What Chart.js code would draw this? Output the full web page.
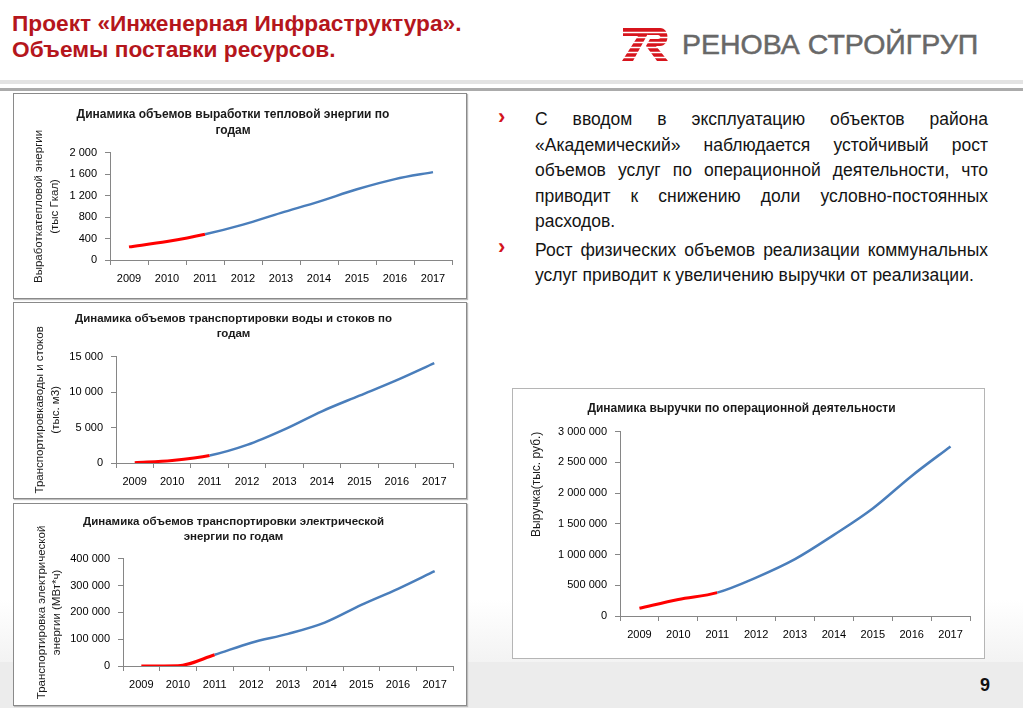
<!DOCTYPE html>
<html lang="ru">
<head>
<meta charset="utf-8">
<title>Объемы поставки ресурсов</title>
<script src="https://cdn.jsdelivr.net/npm/chart.js@4.4.0/dist/chart.umd.min.js"></script>
<style>
  html, body { margin: 0; padding: 0; }
  body {
    width: 1023px; height: 708px; position: relative; overflow: hidden;
    background: #fff; font-family: "Liberation Sans", Arial, sans-serif;
  }
  .bg-mid { position: absolute; left: 0; right: 0; top: 600px; height: 62px; background: linear-gradient(#fff, #f3f3f3); }
  .bg-low { position: absolute; left: 0; right: 0; top: 662px; bottom: 0; background: #ececec; }
  .head { position: absolute; left: 12px; top: 10px; color: #b5161c; font-size: 22.7px; font-weight: bold; line-height: 26px; }
  .logo-icon { position: absolute; left: 620px; top: 27px; }
  .logo-text { position: absolute; left: 682px; top: 28px; font-size: 28.5px; color: #686868; line-height: 32px; -webkit-text-stroke: 0.5px #686868; }
  .rule { position: absolute; left: 0; right: 0; }
  .rule1 { top: 80px; height: 4px; background: #e3e3e3; }
  .rule2 { top: 88px; height: 3px; background: #ababab; }
  .box { position: absolute; box-sizing: border-box; border: 1px solid #8a8a8a; background: #fff; box-shadow: 1px 1px 1px #bdbdbd; }
  .box canvas { position: absolute; left: 0; top: 0; }
  .box4 { border-color: #b5b5b5; box-shadow: none; }
  .bullets { position: absolute; left: 535px; top: 107px; width: 453px; font-size: 17.5px; line-height: 25.5px; color: #141414; }
  .ln { text-align: justify; text-align-last: justify; }
  .last { text-align: left; text-align-last: left; }
  .p2 { margin-top: 3px; }
  .mark { position: absolute; left: 498px; color: #d3141c; font-weight: bold; font-size: 22px; line-height: 22px; }
  .page { position: absolute; left: 980px; top: 675px; font-size: 18px; font-weight: bold; color: #111; }
</style>
</head>
<body>
<div class="bg-mid"></div>
<div class="bg-low"></div>

<div class="head">Проект «Инженерная Инфраструктура».<br>Объемы поставки ресурсов.</div>

<svg class="logo-icon" width="50" height="36" viewBox="0 0 50 36">
  <path d="M3 1 H31 L13 34 H2 L18 9 H3 Z" fill="#d7141c"/>
  <path d="M30 1 H40 C50 1 50 19 40 19 H36 L48 34 H37 L26 19 L30 12 H38 C41 12 41 8 38 8 H27 Z" fill="#d7141c"/>
  <g stroke="#fff" stroke-width="1.6">
    <line x1="0" y1="5.5" x2="50" y2="5.5"/>
    <line x1="0" y1="10.5" x2="50" y2="10.5"/>
    <line x1="0" y1="15.5" x2="50" y2="15.5"/>
    <line x1="0" y1="20.5" x2="50" y2="20.5"/>
    <line x1="0" y1="25.5" x2="50" y2="25.5"/>
    <line x1="0" y1="30.5" x2="50" y2="30.5"/>
  </g>
</svg>
<div class="logo-text">РЕНОВА СТРОЙГРУП</div>

<div class="rule rule1"></div>
<div class="rule rule2"></div>

<div class="box" style="left:13px; top:93px; width:454px; height:206px;">
  <canvas id="chartHeat" width="452" height="204"></canvas>
</div>
<div class="box" style="left:13px; top:302px; width:454px; height:197px;">
  <canvas id="chartWater" width="452" height="195"></canvas>
</div>
<div class="box" style="left:13px; top:503px; width:454px; height:203px;">
  <canvas id="chartElectric" width="452" height="201"></canvas>
</div>
<div class="box box4" style="left:512px; top:388px; width:473px; height:271px;">
  <canvas id="chartRevenue" width="471" height="269"></canvas>
</div>

<div class="mark" style="top:106px;">›</div>
<div class="mark" style="top:236px;">›</div>
<div class="bullets">
  <div class="ln">С вводом в эксплуатацию объектов района</div>
  <div class="ln">«Академический» наблюдается устойчивый рост</div>
  <div class="ln">объемов услуг по операционной деятельности, что</div>
  <div class="ln">приводит к снижению доли условно-постоянных</div>
  <div class="ln last">расходов.</div>
  <div class="ln p2">Рост физических объемов реализации коммунальных</div>
  <div class="ln last">услуг приводит к увеличению выручки от реализации.</div>
</div>

<div class="page">9</div>

<script>
const years = ['2009', '2010', '2011', '2012', '2013', '2014', '2015', '2016', '2017'];
const factCount = 3; // 2009-2011 - факт (красная часть линии)

const heatValues = [245, 345, 480, 660, 880, 1090, 1320, 1510, 1640];
const waterValues = [50, 350, 1050, 2550, 4750, 7300, 9500, 11700, 14100];
const electricValues = [0, 1000, 42000, 87000, 120000, 162000, 228000, 288000, 354000];
const revenueValues = [125000, 270000, 380000, 625000, 925000, 1320000, 1750000, 2280000, 2760000];

const heatTicks = [0, 400, 800, 1200, 1600, 2000];
const waterTicks = [0, 5000, 10000, 15000];
const electricTicks = [0, 100000, 200000, 300000, 400000];
const revenueTicks = [0, 500000, 1000000, 1500000, 2000000, 2500000, 3000000];

const RED = '#ff0000';
const BLUE = '#4a7ebb';
const AXIS = '#868686';

Chart.defaults.font.family = '"Liberation Sans", Arial, sans-serif';
Chart.defaults.color = '#000';

function fmt(v) {
  return String(v).replace(/\B(?=(\d{3})+(?!\d))/g, ' ');
}

function makeChart(id, values, yTicks, L) {
  const ctx = document.getElementById(id);
  return new Chart(ctx, {
    type: 'line',
    data: {
      labels: years,
      datasets: [{
        data: values,
        borderColor: BLUE,
        borderWidth: 2.5,
        pointRadius: 0,
        pointHoverRadius: 0,
        cubicInterpolationMode: 'monotone',
        segment: {
          borderColor: c => c.p1DataIndex < factCount ? RED : BLUE,
          borderWidth: c => c.p1DataIndex < factCount ? 3 : 2.5
        }
      }]
    },
    options: {
      responsive: false,
      animation: false,
      layout: { padding: { left: 0, right: L.padRight, top: 0, bottom: 0 } },
      plugins: {
        legend: { display: false },
        tooltip: { enabled: false },
        title: {
          display: true,
          text: L.title,
          color: '#1a1a1a',
          font: { size: L.titleSize, weight: 'bold', lineHeight: L.titleLH },
          padding: { top: L.titleTop, bottom: L.titleBottom }
        }
      },
      scales: {
        x: {
          offset: true,
          grid: { offset: true, drawOnChartArea: false, drawTicks: true, tickLength: 5, color: AXIS },
          border: { display: true, color: AXIS, width: 1 },
          ticks: { font: { size: 11 }, padding: 7, maxRotation: 0, autoSkip: false },
          afterFit: s => { s.height = L.xHeight; }
        },
        y: {
          min: yTicks[0],
          max: yTicks[yTicks.length - 1],
          ticks: { stepSize: yTicks[1] - yTicks[0], callback: fmt, font: { size: 11 }, padding: 8 },
          grid: { drawOnChartArea: false, drawTicks: true, tickLength: 5, color: AXIS },
          border: { display: true, color: AXIS, width: 1 },
          title: {
            display: true,
            text: L.yTitle,
            color: '#1a1a1a',
            align: L.yAlign || 'center',
            font: { size: L.yTitleSize, lineHeight: L.yTitleLH },
            padding: { top: L.yTitlePad, bottom: 0 }
          },
          afterFit: s => { s.width = L.yWidth; }
        }
      }
    }
  });
}

makeChart('chartHeat', heatValues, heatTicks, {
  title: ['Динамика объемов выработки тепловой энергии по', 'годам'],
  titleSize: 12, titleLH: 1.39, titleTop: 12, titleBottom: 13.5,
  yTitle: ['Выработкатепловой энергии', '(тыс Гкал)'],
  yTitleSize: 11.5, yTitleLH: 1.45, yTitlePad: 16,
  yWidth: 96, xHeight: 38, padRight: 14
});

makeChart('chartWater', waterValues, waterTicks, {
  title: ['Динамика объемов транспортировки воды и стоков по', 'годам'],
  titleSize: 11.5, titleLH: 1.3, titleTop: 8.5, titleBottom: 15.3,
  yTitle: ['Транспортировкаводы и стоков', '(тыс. м3)'],
  yTitleSize: 11.5, yTitleLH: 1.45, yTitlePad: 17,
  yWidth: 102, xHeight: 35, padRight: 13
});

makeChart('chartElectric', electricValues, electricTicks, {
  title: ['Динамика объемов транспортировки электрической', 'энергии по годам'],
  titleSize: 11.5, titleLH: 1.3, titleTop: 10, titleBottom: 15,
  yTitle: ['Транспортировка электрической', 'энергии (МВт*ч)'],
  yTitleSize: 11.5, yTitleLH: 1.3, yTitlePad: 20,
  yWidth: 109, xHeight: 39, padRight: 13
});

makeChart('chartRevenue', revenueValues, revenueTicks, {
  title: 'Динамика выручки по операционной деятельности',
  titleSize: 12, titleLH: 1.33, titleTop: 11.3, titleBottom: 15.4,
  yTitle: 'Выручка(тыс. руб.)',
  yTitleSize: 12, yTitleLH: 1.25, yTitlePad: 16, yAlign: 'end',
  yWidth: 107, xHeight: 42, padRight: 14
});
</script>
</body>
</html>
